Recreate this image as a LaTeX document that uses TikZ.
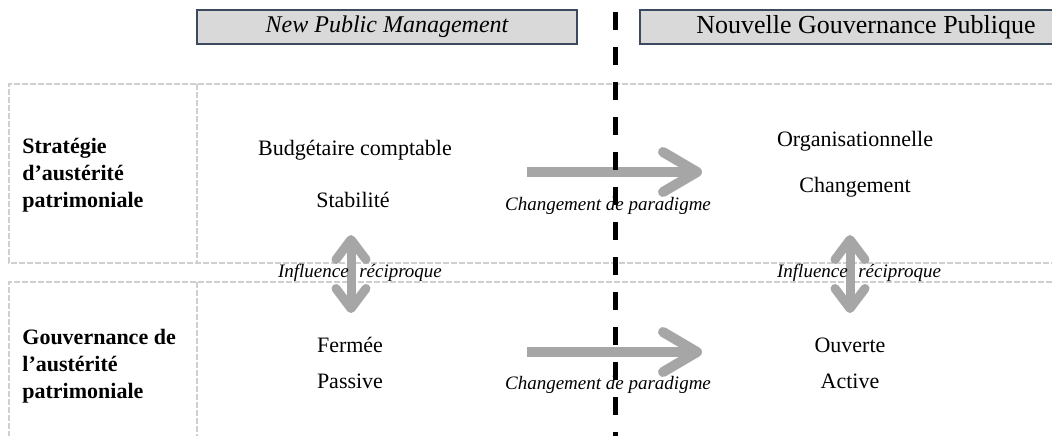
\documentclass[tikz,border=0pt]{standalone}
\usepackage{fontspec}
\setmainfont{Liberation Serif}
\usetikzlibrary{arrows.meta}
\definecolor{hdrfill}{HTML}{D9D9D9}
\definecolor{hdrline}{HTML}{3C4A60}
\definecolor{arrgray}{HTML}{A6A6A6}
\definecolor{gridgray}{HTML}{CFCFCF}
\begin{document}
\begin{tikzpicture}[x=0.5pt,y=-0.5pt,
  hdrbox/.style={draw=hdrline,line width=1pt,fill=hdrfill,minimum height=17pt,inner sep=0pt,font=\fontsize{13}{15}\selectfont},
  rowlbl/.style={anchor=west,align=left,font=\fontsize{11}{13.5}\selectfont\bfseries,inner sep=0pt},
  celltext/.style={font=\fontsize{11}{13}\selectfont,inner sep=0pt},
  notetext/.style={font=\fontsize{9.5}{11}\selectfont\itshape,inner sep=0pt},
  gridline/.style={draw=gridgray,line width=0.8pt,dash pattern=on 3pt off 1pt},
  divider/.style={draw=black,line width=2.5pt,dash pattern=on 9pt off 8.5pt},
  paradigmarrow/.style={draw=arrgray,line width=5pt,-{Straight Barb[length=17pt,width=20pt,round]}},
  mutualarrow/.style={draw=arrgray,line width=4.5pt,{Straight Barb[length=10pt,width=15pt,round]}-{Straight Barb[length=10pt,width=15pt,round]}}
]
\useasboundingbox (0,0) rectangle (1052,436);
\clip (0,0) rectangle (1052,436);

% grid (dashed light grey frames)
\draw[gridline] (1052,84) -- (9,84) -- (9,263) -- (1052,263);
\draw[gridline] (197,84) -- (197,263);
\draw[gridline] (1052,282) -- (9,282) -- (9,436);
\draw[gridline] (197,282) -- (197,436);

% headers
\node[hdrbox,minimum width=190pt,font=\fontsize{12}{14}\selectfont\itshape] (npm) at (387,27) {New Public Management};
\node[hdrbox,minimum width=226pt] (ngp) at (866,27) {Nouvelle Gouvernance Publique};

% row labels
\node[rowlbl] (r1) at (22,175) {Stratégie\\d’austérité\\patrimoniale};
\node[rowlbl] (r2) at (22,366) {Gouvernance de\\l’austérité\\patrimoniale};

% cells
\node[celltext] (bc) at (355,150) {Budgétaire comptable};
\node[celltext] (st) at (353,200) {Stabilité};
\node[celltext] (fe) at (350,345) {Fermée};
\node[celltext] (pa) at (350,381) {Passive};
\node[celltext] (or) at (855,141) {Organisationnelle};
\node[celltext] (ch) at (855,187) {Changement};
\node[celltext] (ou) at (850,345) {Ouverte};
\node[celltext] (ac) at (850,381) {Active};

% arrow end points
\coordinate (h1s) at (527,172);
\coordinate (h1e) at (702,172);
\coordinate (h2s) at (527,352);
\coordinate (h2e) at (702,352);
\coordinate (v1t) at (351,235);
\coordinate (v1b) at (351,313);
\coordinate (v2t) at (850,235);
\coordinate (v2b) at (850,313);

\draw[paradigmarrow] (h1s) -- (h1e);
\draw[paradigmarrow] (h2s) -- (h2e);
\draw[mutualarrow] (v1t) -- (v1b);
\draw[mutualarrow] (v2t) -- (v2b);

% notes
\node[notetext] (cp1) at (608,206) {Changement de paradigme};
\node[notetext] (cp2) at (608,385) {Changement de paradigme};
\node[notetext] (ir1) at (360,273) {Influence\hspace{0.55em}réciproque};
\node[notetext] (ir2) at (859,273) {Influence\hspace{0.55em}réciproque};

% divider
\coordinate (dt) at (615,12);
\coordinate (db) at (615,436);
\draw[divider] (dt) -- (db);
\end{tikzpicture}
\end{document}
